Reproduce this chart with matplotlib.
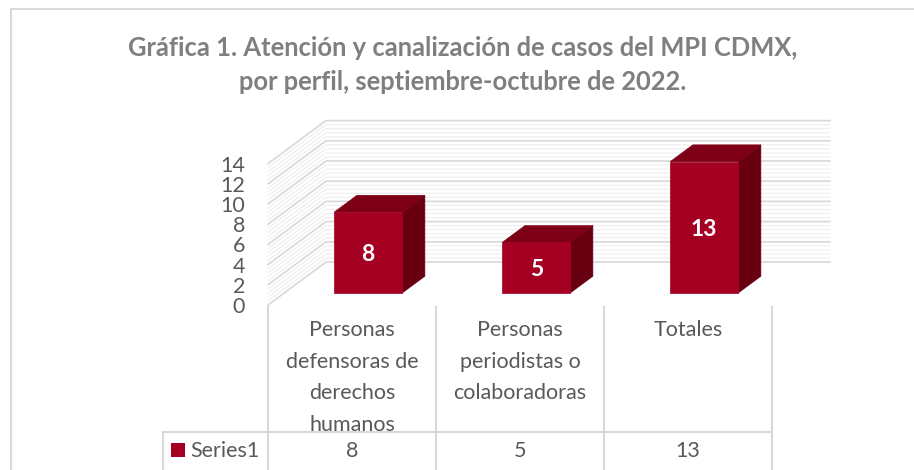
import matplotlib
matplotlib.use("Agg")
import matplotlib.pyplot as plt
import numpy as np
from matplotlib.patches import Polygon, Rectangle

plt.rcParams["font.family"] = ["Lato", "DejaVu Sans"]

# ── data ──────────────────────────────────────────────────────────────────────
title = ("Gráfica 1. Atención y canalización de casos del MPI CDMX,\n"
         "por perfil, septiembre-octubre de 2022.")
categories = ["Personas\ndefensoras de\nderechos\nhumanos",
              "Personas\nperiodistas o\ncolaboradoras",
              "Totales"]
values = [8, 5, 13]
series_name = "Series1"
y_ticks = [0, 2, 4, 6, 8, 10, 12, 14]

# ── style ─────────────────────────────────────────────────────────────────────
W, H = 914, 470
FRONT = "#a50021"
TOP = "#7e0017"
SIDE = "#680012"
GRID = "#d9d9d9"
MINOR = "#eeeeee"
TEXT = "#595959"

# oblique projection: category units on x, value units on y
PX_PER_CAT = 168.0
PX_PER_VAL = 10.1
X0_PX = 268.0          # left floor edge, front
Y0_PX = 305.0          # value 0, front
DX = 58.0 / PX_PER_CAT  # full depth, in category units
DY = 43.0 / PX_PER_VAL  # full depth, in value units
BAR_W = 68.0 / PX_PER_CAT
D0, D1 = 0.28, 0.67    # bar front / back depth
VMAX = y_ticks[-1]


def proj(c, v, d):
    return (c + d * DX, v + d * DY)


def fpx(x, y):
    """pixel (top-left origin) -> figure fraction"""
    return x / W, 1 - y / H


fig = plt.figure(figsize=(W / 100, H / 100), dpi=100)
ax = fig.add_axes([0, 0, 1, 1])
c_lo = -0.5 - X0_PX / PX_PER_CAT
c_hi = -0.5 + (W - X0_PX) / PX_PER_CAT
ax.set_xlim(c_lo, c_hi)
ax.set_ylim(-(H - Y0_PX) / PX_PER_VAL, Y0_PX / PX_PER_VAL)
ax.axis("off")

left, right = -0.5, len(categories) - 0.5

# walls: minor then major gridlines (back wall + side wall)
minor_levels = np.arange(0, VMAX + 0.01, 0.4)
for v in minor_levels:
    xs, ys = zip(proj(left, v, 0), proj(left, v, 1), proj(right, v, 1))
    ax.plot(xs, ys, color=MINOR, lw=0.8, zorder=1)
for v in y_ticks:
    xs, ys = zip(proj(left, v, 0), proj(left, v, 1), proj(right, v, 1))
    ax.plot(xs, ys, color=GRID, lw=1.2, zorder=2)

# bars
for i, v in enumerate(values):
    l, r = i - BAR_W / 2, i + BAR_W / 2
    side = [proj(r, 0, D0), proj(r, 0, D1), proj(r, v, D1), proj(r, v, D0)]
    top = [proj(l, v, D0), proj(r, v, D0), proj(r, v, D1), proj(l, v, D1)]
    front = [proj(l, 0, D0), proj(r, 0, D0), proj(r, v, D0), proj(l, v, D0)]
    ax.add_patch(Polygon(side, closed=True, fc=SIDE, ec=SIDE, lw=0.5, zorder=5))
    ax.add_patch(Polygon(top, closed=True, fc=TOP, ec=TOP, lw=0.5, zorder=5))
    ax.add_patch(Polygon(front, closed=True, fc=FRONT, ec=FRONT, lw=0.5, zorder=6))
    cx, cy = proj(i, v / 2, D0)
    ax.text(cx, cy, str(v), color="white", fontsize=16.5, fontweight="bold",
            ha="center", va="center_baseline", zorder=7)

# y tick labels on the front plane
for t in y_ticks:
    ax.text(left - 23 / PX_PER_CAT, t, str(t), color=TEXT, fontsize=15.5,
            ha="right", va="center_baseline")

# ── data table ────────────────────────────────────────────────────────────────
row_top, row_mid, row_bot = 307, 432, 472
tab_l = 163
col_px = [X0_PX + k * PX_PER_CAT for k in range(len(categories) + 1)]

for x in col_px:
    fig.add_artist(plt.Line2D(*zip(fpx(x, row_top), fpx(x, row_bot)),
                              color=GRID, lw=1.5))
fig.add_artist(plt.Line2D(*zip(fpx(tab_l, row_mid), fpx(col_px[-1], row_mid)),
                          color=GRID, lw=1.5))
fig.add_artist(plt.Line2D(*zip(fpx(tab_l, row_mid), fpx(tab_l, row_bot)),
                          color=GRID, lw=1.5))

for k, (cat, v) in enumerate(zip(categories, values)):
    cx = (col_px[k] + col_px[k + 1]) / 2
    fig.text(*fpx(cx, 320), cat, color=TEXT, fontsize=15.5, ha="center",
             va="top", linespacing=1.72)
    fig.text(*fpx(cx, 451), str(v), color=TEXT, fontsize=15.5, ha="center",
             va="center")

fig.add_artist(Rectangle(fpx(171, 457), 14 / W, 14 / H, transform=fig.transFigure,
                         fc=FRONT, ec="none"))
fig.text(*fpx(190, 451), series_name, color=TEXT, fontsize=15.5, ha="left",
         va="center")

# ── title & frame ─────────────────────────────────────────────────────────────
fig.text(*fpx(463, 65), title, color="#7f7f7f", fontsize=18.4, fontweight="bold",
         ha="center", va="center", linespacing=1.5)

fig.add_artist(plt.Line2D(*zip(fpx(11, H), fpx(11, 9), fpx(W, 9)),
                          color=GRID, lw=1.5))

fig.savefig("out.png", dpi=100)
